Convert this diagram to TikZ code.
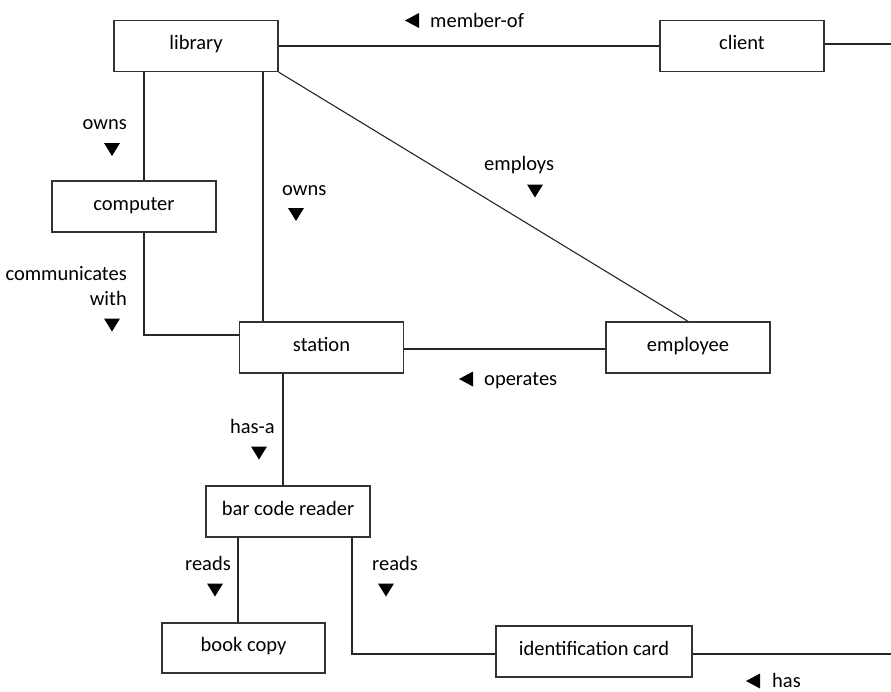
\documentclass[tikz,border=0pt]{standalone}
\usepackage{fontspec}
\setmainfont{Carlito}
\usetikzlibrary{calc}
\tikzset{
  ent/.style={draw=black!80, line width=1.3pt, minimum width=164pt, minimum height=51pt,
    inner sep=0pt, text height=0.75em, text depth=0em, font=\fontsize{20.5}{23}\selectfont},
  conn/.style={draw=black!85, line width=1.1pt},
  lbl/.style={anchor=base, inner sep=0pt, font=\fontsize{20.5}{23}\selectfont},
  pics/downtri/.style={code={\fill[black] (-8,-6.5) -- (8,-6.5) -- (0,6.5) -- cycle;}},
  pics/lefttri/.style={code={\fill[black] (7,-7.5) -- (7,7.5) -- (-7,0) -- cycle;}}
}
\begin{document}
\begin{tikzpicture}[x=1pt,y=-1pt]
\useasboundingbox (0,0) rectangle (891,691);
% entities
\node[ent] (library)  at (196,46)    {library};
\node[ent] (client)   at (742,46)    {client};
\node[ent] (computer) at (134,206.5) {computer};
\node[ent] (station)  at (321.5,347.5) {station};
\node[ent] (employee) at (688,347.5) {employee};
\node[ent] (bcr)      at (288,511.5) {bar code reader};
\node[ent, minimum width=163pt, minimum height=50pt] (book) at (243.5,648) {book copy};
\node[ent, minimum width=196pt] (idcard) at (594,651.5) {identification card};
% free ends
\coordinate (clientend) at (891,44);
\coordinate (idend) at (891,654);
% x positions of vertical connectors
\coordinate (xa) at (144,0);
\coordinate (xb) at (263,0);
\coordinate (xc) at (283,0);
\coordinate (xd) at (238,0);
\coordinate (xe) at (352,0);
% connectors
\draw[conn] (library.east) -- (client.west);
\draw[conn] (client.east |- clientend) -- (clientend);
\draw[conn] (library.south -| xa) -- (computer.north -| xa);
\draw[conn] (computer.south -| xa) |- ($(station.west)+(0,-12.5)$);
\draw[conn] (library.south -| xb) -- (station.north -| xb);
\draw[conn] (library.south east) -- (employee.north);
\draw[conn] ($(station.east)+(0,1.5)$) -- ($(employee.west)+(0,1.5)$);
\draw[conn] (station.south -| xc) -- (bcr.north -| xc);
\draw[conn] (bcr.south -| xd) -- (book.north -| xd);
\draw[conn] (bcr.south -| xe) |- ($(idcard.west)+(0,2.5)$);
\draw[conn] ($(idcard.east)+(0,2.5)$) -- (idend);
% labels
\pic at (412,20.5) {lefttri};
\node[lbl, anchor=base west] (l1) at (430,27) {member-of};
\node[lbl, anchor=base east] (l2) at (127,129) {owns};
\pic at (112,149.5) {downtri};
\node[lbl, anchor=base east] (l3) at (127,280) {communicates};
\node[lbl, anchor=base east] (l3b) at (127,305) {with};
\pic at (112,325) {downtri};
\node[lbl, anchor=base west] (l4) at (282,195) {owns};
\pic at (296,214.5) {downtri};
\node[lbl, anchor=base west] (l5) at (484,170) {employs};
\pic at (535,191) {downtri};
\pic at (466,379) {lefttri};
\node[lbl, anchor=base west] (l6) at (484,385) {operates};
\node[lbl, anchor=base east] (l7) at (275,433) {has-a};
\pic at (259,453) {downtri};
\node[lbl, anchor=base east] (l8) at (231,570) {reads};
\pic at (215,590) {downtri};
\node[lbl, anchor=base west] (l9) at (372,570) {reads};
\pic at (386,590) {downtri};
\pic at (753,681) {lefttri};
\node[lbl, anchor=base west] (l10) at (772,687.5) {has};
\end{tikzpicture}
\end{document}
